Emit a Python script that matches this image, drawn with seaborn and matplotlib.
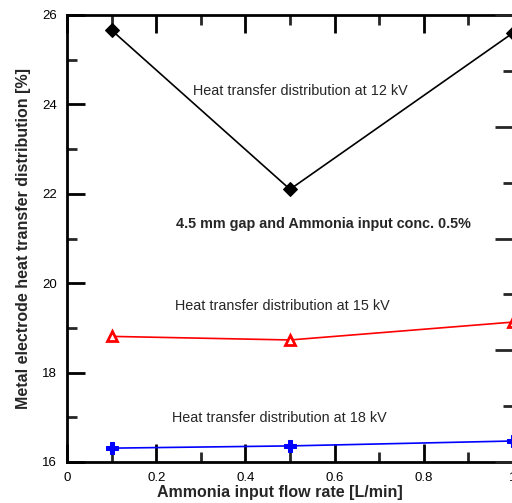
import matplotlib
matplotlib.use("Agg")
import matplotlib.pyplot as plt
import seaborn as sns
import pandas as pd
from matplotlib.ticker import MultipleLocator

# Ammonia input flow rate [L/min]
flow_rate = [0.1, 0.5, 1.0]
# Heat transfer distribution [%] at each applied voltage
ht_12kv = [25.66, 22.10, 25.60]
ht_15kv = [18.81, 18.73, 19.13]
ht_18kv = [16.31, 16.36, 16.47]

sns.set_theme(style="ticks")
plt.rcParams["font.family"] = ["Liberation Sans", "DejaVu Sans"]

fig = plt.figure(figsize=(5.12, 5.03), dpi=100)
ax = fig.add_axes([67 / 512, 41 / 503, 446 / 512, 447 / 503])

series = [
    (ht_12kv, "black", "D", dict(markersize=7, markerfacecolor="black", markeredgecolor="black")),
    (ht_15kv, "red", "^", dict(markersize=7, markerfacecolor="white", markeredgecolor="red", markeredgewidth=2)),
    (ht_18kv, "blue", "P", dict(markersize=9, markerfacecolor="blue", markeredgecolor="blue")),
]
for values, color, marker, mstyle in series:
    df = pd.DataFrame({"x": flow_rate, "y": values})
    sns.lineplot(data=df, x="x", y="y", ax=ax, color=color, marker=marker,
                 linewidth=1.2, clip_on=False, zorder=5, **mstyle)

ax.set_xlim(0, 1)
ax.set_ylim(16, 26)
ax.xaxis.set_major_locator(MultipleLocator(0.2))
ax.xaxis.set_minor_locator(MultipleLocator(0.1))
ax.yaxis.set_major_locator(MultipleLocator(2))
ax.yaxis.set_minor_locator(MultipleLocator(1))
ax.set_xticks([0, 0.2, 0.4, 0.6, 0.8, 1.0])
ax.set_xticklabels(["0", "0.2", "0.4", "0.6", "0.8", "1"])

for s in ax.spines.values():
    s.set_linewidth(2)
    s.set_color("black")
    s.set_visible(True)

ax.tick_params(which="major", direction="in", length=13, width=2, top=True,
               labelsize=9.5, pad=7, colors="black")
ax.tick_params(which="minor", direction="in", length=7, width=2, top=True)
ax.tick_params(axis="y", which="both", right=False)

# right-hand frame ticks on their own scale
ax2 = ax.twinx()
ax2.set_ylim(0, 4)
ax2.yaxis.set_major_locator(MultipleLocator(1))
ax2.yaxis.set_minor_locator(MultipleLocator(0.5))
ax2.tick_params(which="major", direction="in", length=13, width=2, labelright=False)
ax2.tick_params(which="minor", direction="in", length=7, width=2)
for s in ax2.spines.values():
    s.set_visible(False)

ax.set_xlabel("Ammonia input flow rate [L/min]", fontsize=11.5, fontweight="bold",
              va="center")
ax.xaxis.set_label_coords(0.478, -0.068)
ax.set_ylabel("Metal electrode heat transfer distribution [%]", fontsize=11.5,
              fontweight="bold", labelpad=8)

ax.text(0.283, 24.3, "Heat transfer distribution at 12 kV", fontsize=10.4, va="center")
ax.text(0.245, 21.32, "4.5 mm gap and Ammonia input conc. 0.5%", fontsize=10.4,
        fontweight="bold", va="center")
ax.text(0.242, 19.49, "Heat transfer distribution at 15 kV", fontsize=10.4, va="center")
ax.text(0.236, 16.98, "Heat transfer distribution at 18 kV", fontsize=10.4, va="center")

fig.savefig("out.png", dpi=100)
